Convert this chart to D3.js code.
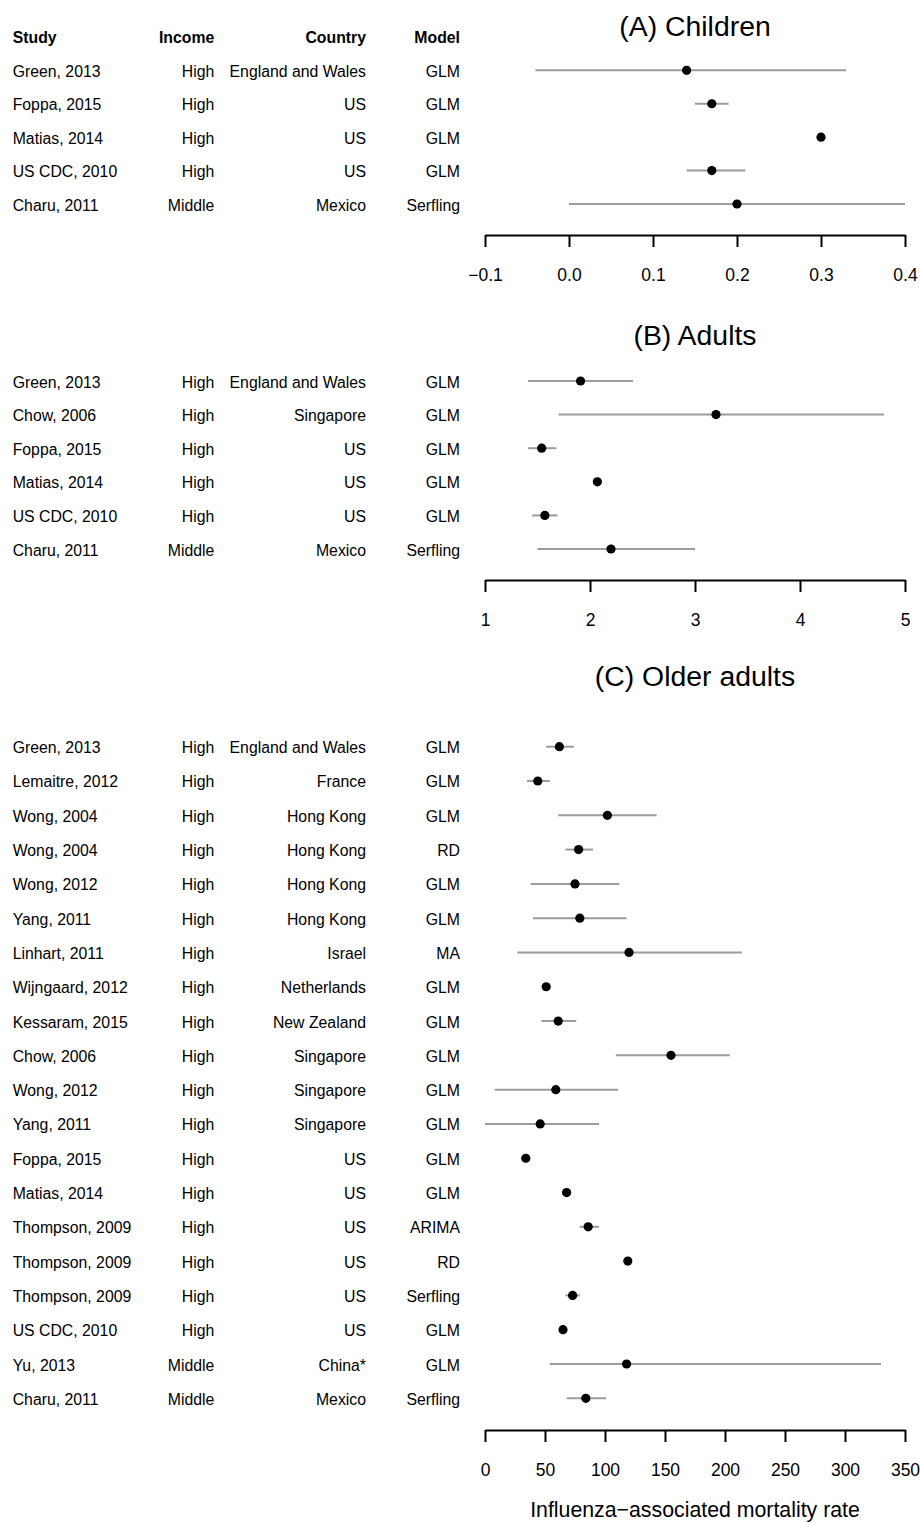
<!DOCTYPE html>
<html>
<head>
<meta charset="utf-8">
<script src="https://cdn.jsdelivr.net/npm/d3@7"></script>
<style>
  html, body { margin: 0; padding: 0; background: #fff; }
  svg { display: block; font-family: "Liberation Sans", Arial, Helvetica, sans-serif; }
</style>
</head>
<body>
<svg id="chart" width="920" height="1524"></svg>
<script>
// ---------------- DATA ----------------
const headers = ["Study", "Income", "Country", "Model"];

// (A) Children
const studiesA = ["Green, 2013", "Foppa, 2015", "Matias, 2014", "US CDC, 2010", "Charu, 2011"];
const incomeA  = ["High", "High", "High", "High", "Middle"];
const countryA = ["England and Wales", "US", "US", "US", "Mexico"];
const modelA   = ["GLM", "GLM", "GLM", "GLM", "Serfling"];
const estA     = [0.14, 0.17, 0.30, 0.17, 0.20];
const lowA     = [-0.04, 0.15, null, 0.14, 0.00];
const highA    = [0.33, 0.19, null, 0.21, 0.40];
const ticksA   = [-0.1, 0.0, 0.1, 0.2, 0.3, 0.4];

// (B) Adults
const studiesB = ["Green, 2013", "Chow, 2006", "Foppa, 2015", "Matias, 2014", "US CDC, 2010", "Charu, 2011"];
const incomeB  = ["High", "High", "High", "High", "High", "Middle"];
const countryB = ["England and Wales", "Singapore", "US", "US", "US", "Mexico"];
const modelB   = ["GLM", "GLM", "GLM", "GLM", "GLM", "Serfling"];
const estB     = [1.91, 3.20, 1.54, 2.07, 1.57, 2.20];
const lowB     = [1.41, 1.70, 1.41, null, 1.45, 1.50];
const highB    = [2.41, 4.80, 1.68, null, 1.69, 3.00];
const ticksB   = [1, 2, 3, 4, 5];

// (C) Older adults
const studiesC = ["Green, 2013", "Lemaitre, 2012", "Wong, 2004", "Wong, 2004", "Wong, 2012", "Yang, 2011",
  "Linhart, 2011", "Wijngaard, 2012", "Kessaram, 2015", "Chow, 2006", "Wong, 2012", "Yang, 2011",
  "Foppa, 2015", "Matias, 2014", "Thompson, 2009", "Thompson, 2009", "Thompson, 2009", "US CDC, 2010",
  "Yu, 2013", "Charu, 2011"];
const incomeC  = ["High", "High", "High", "High", "High", "High", "High", "High", "High", "High",
  "High", "High", "High", "High", "High", "High", "High", "High", "Middle", "Middle"];
const countryC = ["England and Wales", "France", "Hong Kong", "Hong Kong", "Hong Kong", "Hong Kong",
  "Israel", "Netherlands", "New Zealand", "Singapore", "Singapore", "Singapore", "US", "US", "US", "US",
  "US", "US", "China*", "Mexico"];
const modelC   = ["GLM", "GLM", "GLM", "RD", "GLM", "GLM", "MA", "GLM", "GLM", "GLM", "GLM", "GLM",
  "GLM", "GLM", "ARIMA", "RD", "Serfling", "GLM", "GLM", "Serfling"];
const estC     = [62, 44, 102, 78, 75, 79, 120, 51, 61, 155, 59, 46, 34, 68, 86, 119, 73, 65, 118, 84];
const lowC     = [51, 35, 61, 67, 38, 40, 27, null, 47, 109, 8, 0, null, null, 79, null, 67, null, 54, 68];
const highC    = [74, 54, 143, 90, 112, 118, 214, null, 76, 204, 111, 95, null, null, 95, null, 79, null, 330, 101];
const ticksC   = [0, 50, 100, 150, 200, 250, 300, 350];

const xLabel = "Influenza\u2212associated mortality rate";

// ---------------- LAYOUT ----------------
const svg = d3.select("#chart");
const FONT = 15.8;
const colX = { study: 12.7, income: 214.3, country: 366, model: 460 };
const plotL = 485, plotR = 905;

const panels = [
  { title: "(A) Children", studies: studiesA, income: incomeA, country: countryA, model: modelA,
    est: estA, low: lowA, high: highA, ticks: ticksA, domain: [-0.1, 0.4], fmt: d3.format(".1f"),
    titleY: 36, row0: 70.3, rowN: 204, axisY: 235, header: true },
  { title: "(B) Adults", studies: studiesB, income: incomeB, country: countryB, model: modelB,
    est: estB, low: lowB, high: highB, ticks: ticksB, domain: [1, 5], fmt: d3.format("d"),
    titleY: 344.5, row0: 381, rowN: 549, axisY: 580, header: false },
  { title: "(C) Older adults", studies: studiesC, income: incomeC, country: countryC, model: modelC,
    est: estC, low: lowC, high: highC, ticks: ticksC, domain: [0, 350], fmt: d3.format("d"),
    titleY: 685.5, row0: 746.7, rowN: 1398.3, axisY: 1430, header: false }
];

panels.forEach(p => {
  const n = p.studies.length;
  const x = d3.scaleLinear().domain(p.domain).range([plotL, plotR]);
  const y = d3.scaleLinear().domain([0, n - 1]).range([p.row0, p.rowN]);
  const g = svg.append("g");

  // title
  g.append("text")
    .attr("x", (plotL + plotR) / 2).attr("y", p.titleY)
    .attr("text-anchor", "middle").attr("font-size", 28.4).attr("fill", "#000")
    .text(p.title);

  // header
  if (p.header) {
    const hy = y(-1) + 6.5;
    const anchors = ["start", "end", "end", "end"];
    const xs = [colX.study, colX.income, colX.country, colX.model];
    headers.forEach((h, i) => {
      g.append("text").attr("x", xs[i]).attr("y", hy)
        .attr("text-anchor", anchors[i]).attr("font-size", FONT)
        .attr("font-weight", "bold").attr("fill", "#000").text(h);
    });
  }

  const idx = d3.range(n);
  const cols = [
    { arr: p.studies, x: colX.study, anchor: "start" },
    { arr: p.income, x: colX.income, anchor: "end" },
    { arr: p.country, x: colX.country, anchor: "end" },
    { arr: p.model, x: colX.model, anchor: "end" }
  ];
  cols.forEach(c => {
    g.append("g").selectAll("text").data(idx).join("text")
      .attr("x", c.x).attr("y", i => y(i) + 6.5)
      .attr("text-anchor", c.anchor).attr("font-size", FONT).attr("fill", "#000")
      .text(i => c.arr[i]);
  });

  // error bars
  g.append("g").selectAll("line").data(idx.filter(i => p.low[i] != null)).join("line")
    .attr("x1", i => x(p.low[i])).attr("x2", i => x(p.high[i]))
    .attr("y1", i => y(i)).attr("y2", i => y(i))
    .attr("stroke", "#9c9c9c").attr("stroke-width", 2);

  // points
  g.append("g").selectAll("circle").data(idx).join("circle")
    .attr("cx", i => x(p.est[i])).attr("cy", i => y(i)).attr("r", 4.6)
    .attr("fill", "#000");

  // axis
  const ax = g.append("g").attr("transform", `translate(0,${p.axisY})`)
    .call(d3.axisBottom(x).tickValues(p.ticks).tickFormat(p.fmt).tickSize(12).tickSizeOuter(0));
  ax.select(".domain").attr("stroke", "#000").attr("stroke-width", 2);
  ax.selectAll(".tick line").attr("stroke", "#000").attr("stroke-width", 2);
  ax.selectAll(".tick text").attr("y", 46).attr("dy", null)
    .attr("font-size", 17.5).attr("fill", "#000")
    .attr("font-family", "\"Liberation Sans\", Arial, Helvetica, sans-serif");
});

svg.append("text").attr("x", (plotL + plotR) / 2).attr("y", 1517)
  .attr("text-anchor", "middle").attr("font-size", 21.3).attr("fill", "#000")
  .text(xLabel);
</script>
</body>
</html>
